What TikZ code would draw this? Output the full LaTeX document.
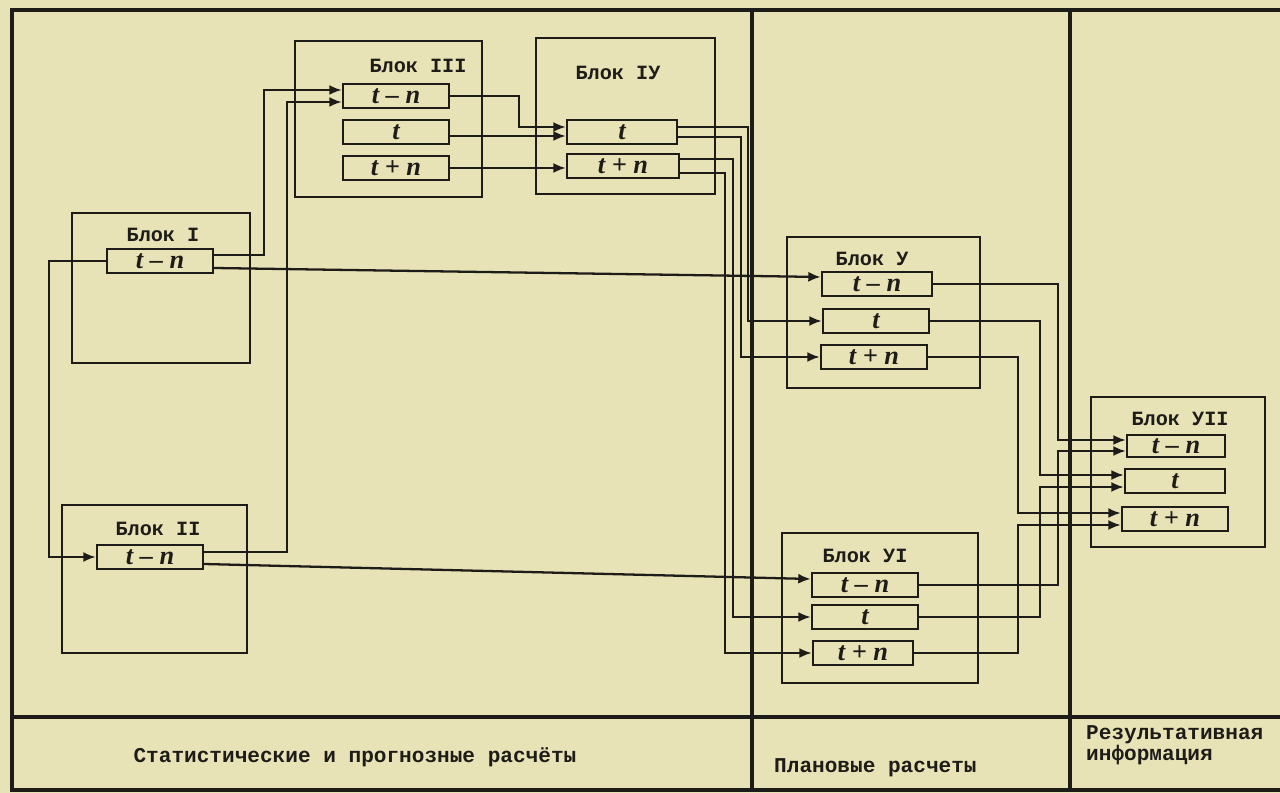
\documentclass[tikz,border=0pt]{standalone}
\usepackage{fontspec}
\setmainfont{Liberation Serif}
\newfontfamily\typew{Liberation Mono}
\usetikzlibrary{arrows.meta,calc}
\definecolor{paper}{RGB}{231,227,182}
\definecolor{ink}{RGB}{30,28,24}

\begin{document}
\begin{tikzpicture}[
    x=0.02cm, y=-0.02cm,
    >={Latex[length=2.5mm,width=2mm]},
    blk/.style={draw=ink, line width=1.6pt, inner sep=0pt},
    cell/.style={draw=ink, line width=1.4pt, minimum width=2.12cm, minimum height=0.48cm,
                 inner sep=0pt, text=ink, font=\bfseries\itshape\fontsize{15}{15}\selectfont},
    ttl/.style={text=ink, inner sep=0.5pt, font=\typew\bfseries\fontsize{11.5}{12}\selectfont},
    lbl/.style={text=ink, font=\typew\bfseries\fontsize{12}{12}\selectfont},
    wire/.style={draw=ink, line width=1.3pt},
    rule/.style={draw=ink, line width=2pt},
  ]
  \useasboundingbox (0,0) rectangle (1280,793);
  \fill[paper] (0,0) rectangle (1280,793);

  % ---------------- frame
  \draw[rule] (1280,10) -- (12,10) -- (12,790) -- (1280,790);
  \draw[rule] (752,10) -- (752,790);
  \draw[rule] (1070,10) -- (1070,790);
  \draw[rule] (12,717) -- (1280,717);
  \node[lbl] (colA) at (355,757) {Статистические и прогнозные расчёты};
  \node[lbl, anchor=west] (colB) at (768,768) {Плановые расчеты};
  \node[lbl, anchor=west, align=left, font=\typew\bfseries\fontsize{12}{8}\selectfont]
       (colC) at (1080,745) {Результативная\\информация};

  % ---------------- blocks
  \node[blk, minimum width=3.56cm, minimum height=3cm]    (b1) at (161,288) {};
  \node[blk, minimum width=3.7cm,  minimum height=2.96cm] (b2) at (154.5,579) {};
  \node[blk, minimum width=3.74cm, minimum height=3.12cm] (b3) at (388.5,119) {};
  \node[blk, minimum width=3.58cm, minimum height=3.12cm] (b4) at (625.5,116) {};
  \node[blk, minimum width=3.86cm, minimum height=3.02cm] (b5) at (883.5,312.5) {};
  \node[blk, minimum width=3.92cm, minimum height=3cm]    (b6) at (880,608) {};
  \node[blk, minimum width=3.48cm, minimum height=3cm]    (b7) at (1178,472) {};
  \node[ttl] (l1) at (163,235) {Блок I};
  \node[ttl] (l2) at (158,529) {Блок II};
  \node[ttl] (l3) at (418,66) {Блок III};
  \node[ttl] (l4) at (618,73) {Блок IУ};
  \node[ttl] (l5) at (872,259) {Блок У};
  \node[ttl] (l6) at (865,556) {Блок УI};
  \node[ttl] (l7) at (1180,419) {Блок УII};

  % ---------------- cells
  \node[cell] (c1) at (160,261) {t – n};
  \node[cell] (c2) at (150,557) {t – n};
  \node[cell] (c3a) at (396,96) {t – n};
  \node[cell] (c3b) at (396,132) {t};
  \node[cell] (c3c) at (396,168) {t + n};
  \node[cell, minimum width=2.2cm]  (c4a) at (622,132) {t};
  \node[cell, minimum width=2.24cm] (c4b) at (623,166) {t + n};
  \node[cell, minimum width=2.2cm]  (c5a) at (877,284) {t – n};
  \node[cell] (c5b) at (876,321) {t};
  \node[cell] (c5c) at (874,357) {t + n};
  \node[cell] (c6a) at (865,585) {t – n};
  \node[cell] (c6b) at (865,617) {t};
  \node[cell, minimum width=2cm]    (c6c) at (863,653) {t + n};
  \node[cell, minimum width=1.96cm, minimum height=0.44cm] (c7a) at (1176,446) {t – n};
  \node[cell, minimum width=2cm]    (c7b) at (1175,481) {t};
  \node[cell] (c7c) at (1175,519) {t + n};

  % ---------------- I, II -> III
  \draw[wire,->] ($(c1.east)+(0,-6)$) -- ++(50,0) |- ($(c3a.west)+(0,-6)$);
  \draw[wire,->] ($(c2.east)+(0,-5)$) -- ++(83,0) |- ($(c3a.west)+(0,6)$);
  \draw[wire,->] (c1.west) -- ++(-57,0) |- (c2.west);

  % ---------------- I -> V, II -> VI
  \draw[wire,->] ($(c1.east)+(0,7)$) -- ($(c5a.west)+(0,-7)$);
  \draw[wire,->] ($(c2.east)+(0,7)$) -- ($(c6a.west)+(0,-6)$);

  % ---------------- III -> IV
  \draw[wire,->] (c3a.east) -- ++(69,0) |- ($(c4a.west)+(0,-5)$);
  \draw[wire,->] ($(c3b.east)+(0,4)$) -- ($(c4a.west)+(0,4)$);
  \draw[wire,->] (c3c.east) -- (c3c.east -| c4b.west);

  % ---------------- IV -> V, VI
  \draw[wire,->] ($(c4a.east)+(0,-5)$) -- ++(70,0) |- (c5b.west);
  \draw[wire,->] ($(c4a.east)+(0,5)$) -- ++(63,0) |- (c5c.west);
  \draw[wire,->] ($(c4b.east)+(0,-7)$) -- ++(53,0) |- (c6b.west);
  \draw[wire,->] ($(c4b.east)+(0,7)$) -- ++(45,0) |- (c6c.west);

  % ---------------- V, VI -> VII
  \draw[wire,->] (c5a.east) -- ++(125,0) |- ($(c7a.west)+(0,-6)$);
  \draw[wire,->] (c6a.east) -- ++(139,0) |- ($(c7a.west)+(0,5)$);
  \draw[wire,->] (c5b.east) -- ++(110,0) |- ($(c7b.west)+(0,-6)$);
  \draw[wire,->] (c6b.east) -- ++(121,0) |- ($(c7b.west)+(0,6)$);
  \draw[wire,->] (c5c.east) -- ++(90,0) |- ($(c7c.west)+(0,-6)$);
  \draw[wire,->] (c6c.east) -- ++(104,0) |- ($(c7c.west)+(0,6)$);
\end{tikzpicture}
\end{document}
